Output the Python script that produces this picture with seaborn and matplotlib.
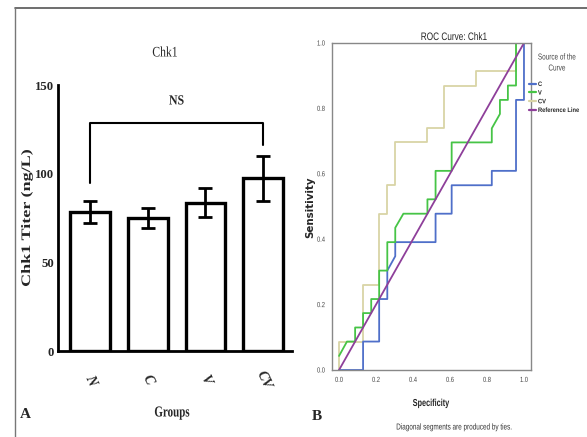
import numpy as np
import pandas as pd
import matplotlib
matplotlib.use("Agg")
import matplotlib.pyplot as plt
from matplotlib.lines import Line2D
from matplotlib.patheffects import AbstractPathEffect
from matplotlib.transforms import Affine2D
import seaborn as sns

# ---------------- data ----------------
groups = ["N", "C", "V", "CV"]
titer_mean = [78.5, 75.0, 83.5, 97.5]
titer_err = [6.3, 5.5, 8.2, 12.7]

roc_c_x = [0, 0.130, 0.130, 0.217, 0.217, 0.261, 0.261, 0.304, 0.304, 0.522, 0.522, 0.609, 0.609, 0.826, 0.826, 0.957, 0.957, 1.0, 1.0]
roc_c_y = [0, 0, 0.087, 0.087, 0.217, 0.217, 0.304, 0.348, 0.391, 0.391, 0.478, 0.478, 0.565, 0.565, 0.609, 0.609, 0.826, 0.826, 1.0]

roc_v_x = [0, 0.043, 0.087, 0.087, 0.130, 0.130, 0.174, 0.174, 0.217, 0.217, 0.261, 0.261, 0.304, 0.304, 0.348, 0.478, 0.478, 0.522, 0.522, 0.609, 0.609, 0.826, 0.826, 0.870, 0.870, 0.913, 0.913, 0.957, 0.957, 1.0]
roc_v_y = [0.043, 0.087, 0.087, 0.130, 0.130, 0.174, 0.174, 0.217, 0.217, 0.304, 0.304, 0.391, 0.391, 0.435, 0.478, 0.478, 0.522, 0.522, 0.609, 0.609, 0.696, 0.696, 0.739, 0.783, 0.826, 0.826, 0.870, 0.870, 1.0, 1.0]

roc_cv_x = [0, 0, 0.130, 0.130, 0.217, 0.217, 0.261, 0.261, 0.304, 0.304, 0.478, 0.478, 0.565, 0.565, 0.739, 0.739, 0.957, 0.957, 1.0]
roc_cv_y = [0, 0.087, 0.087, 0.261, 0.261, 0.478, 0.478, 0.565, 0.565, 0.696, 0.696, 0.739, 0.739, 0.870, 0.870, 0.913, 0.913, 1.0, 1.0]

ref_x = [0, 1]
ref_y = [0, 1]

legend_labels = ["C", "V", "CV", "Reference Line"]


class Stretch(AbstractPathEffect):
    """Horizontally stretch/condense text glyphs (in the text's own direction)."""

    def __init__(self, sx, anchor="center"):
        super().__init__()
        self.sx = sx
        self.anchor = anchor

    def draw_path(self, renderer, gc, tpath, affine, rgbFace=None):
        ext = tpath.get_extents()
        if self.anchor == "left":
            a = ext.x0
        elif self.anchor == "right":
            a = ext.x1
        else:
            a = 0.5 * (ext.x0 + ext.x1)
        t = Affine2D().translate(-a, 0).scale(self.sx, 1).translate(a, 0) + affine
        renderer.draw_path(gc, tpath, t, rgbFace)


# ---------------- style ----------------
sns.set_style("white")
plt.rcParams["font.family"] = ["Liberation Serif", "DejaVu Serif"]

W, H = 587, 437
fig = plt.figure(figsize=(W / 100, H / 100), dpi=100)


def fx(px):
    return px / W


def fy(py):
    return 1 - py / H


# frame lines
fig.add_artist(Line2D([fx(15), 1], [fy(8), fy(8)], color="#555555", lw=1.2))
fig.add_artist(Line2D([fx(15), fx(15)], [fy(8), 0], color="#777777", lw=1.0))

# ---------------- panel A ----------------
axA = fig.add_axes([fx(58), fy(351), fx(292) - fx(58), fy(85) - fy(351)])
dfA = pd.DataFrame({"group": groups, "titer": titer_mean})
sns.barplot(data=dfA, x="group", y="titer", ax=axA, color="white", edgecolor="black",
            linewidth=2.4, width=0.69, errorbar=None)
axA.errorbar(np.arange(len(groups)), titer_mean, yerr=titer_err, fmt="none",
             ecolor="black", elinewidth=2.0, capsize=5, capthick=2.0)
axA.set_xlim(-0.555, 3.5)
axA.set_ylim(0, 150)
axA.set_yticks([0, 50, 100, 150])
axA.set_yticklabels(["0", "50", "100", "150"], fontweight="bold", fontsize=9.2)
axA.set_xticks(range(len(groups)))
axA.set_xticklabels(groups, rotation=-65, fontstyle="italic", fontweight="bold",
                    fontsize=10, ha="center", va="center")
for s in ["top", "right"]:
    axA.spines[s].set_visible(False)
for s in ["left", "bottom"]:
    axA.spines[s].set_linewidth(2.0)
    axA.spines[s].set_color("black")
axA.tick_params(axis="y", direction="out", length=2, width=2, color="black", pad=1)
axA.tick_params(axis="x", direction="out", length=6, width=2, color="black", pad=15)
axA.set_xlabel("")
axA.set_ylabel("Chk1 Titer (ng/L)", fontweight="bold", fontsize=9.3)
axA.yaxis.set_label_coords((33 - 58) / 234, 0.5)
axA.yaxis.label.set_path_effects([Stretch(1.4)])
# bracket
axA.plot([0, 0, 3, 3], [95, 128.5, 128.5, 116], color="black", lw=1.5)
tNS = axA.text(1.5, 141, "NS", ha="center", va="center", fontsize=10, fontweight="bold")
tNS.set_path_effects([Stretch(0.85)])

t = fig.text(fx(165), fy(53), "Chk1", ha="center", va="center", fontsize=10.5)
t.set_path_effects([Stretch(0.8)])
t = fig.text(fx(172), fy(413), "Groups", ha="center", va="center", fontsize=11, fontweight="bold")
t.set_path_effects([Stretch(0.72)])
fig.text(fx(25), fy(414), "A", ha="center", va="center", fontsize=11, fontweight="bold")

# ---------------- panel B ----------------
sans = ["Liberation Sans", "DejaVu Sans"]
axB = fig.add_axes([fx(332), fy(370), fx(531) - fx(332), fy(43) - fy(370)])
col_c = "#4f6fc9"
col_v = "#46c446"
col_cv = "#d9d4a6"
col_ref = "#8e3f9a"
sns.lineplot(x=roc_cv_x, y=roc_cv_y, ax=axB, sort=False, estimator=None, color=col_cv, lw=1.3)
sns.lineplot(x=roc_c_x, y=roc_c_y, ax=axB, sort=False, estimator=None, color=col_c, lw=1.3)
sns.lineplot(x=roc_v_x, y=roc_v_y, ax=axB, sort=False, estimator=None, color=col_v, lw=1.3)
sns.lineplot(x=ref_x, y=ref_y, ax=axB, sort=False, estimator=None, color=col_ref, lw=1.3)
axB.set_xlim(-0.038, 1.038)
axB.set_ylim(0, 1.0)
ticks = [0.0, 0.2, 0.4, 0.6, 0.8, 1.0]
axB.set_xticks(ticks)
axB.set_yticks(ticks)
axB.set_xticklabels([f"{v:.1f}" for v in ticks], family=sans, fontsize=5.3, color="#444444")
axB.set_yticklabels([f"{v:.1f}" for v in ticks], family=sans, fontsize=5.3, color="#444444")
for lab in axB.get_xticklabels():
    lab.set_path_effects([Stretch(0.78)])
for lab in axB.get_yticklabels():
    lab.set_path_effects([Stretch(0.78, "right")])
for s in axB.spines.values():
    s.set_color("#888888")
    s.set_linewidth(1.0)
axB.tick_params(axis="both", direction="out", length=3, width=0.8, color="#888888", pad=2)
axB.set_xlabel("")
axB.set_ylabel("")

t = fig.text(fx(454), fy(37), "ROC Curve: Chk1", ha="center", va="center", family=sans, fontsize=7.8)
t.set_path_effects([Stretch(0.76)])
t = fig.text(fx(310), fy(207), "Sensitivity", ha="center", va="center", rotation=90,
             family=["DejaVu Sans"], fontsize=7.4, fontweight="bold")
t = fig.text(fx(431), fy(403), "Specificity", ha="center", va="center", family=sans,
             fontsize=7.3, fontweight="bold")
t.set_path_effects([Stretch(0.72)])
fig.text(fx(317), fy(417), "B", ha="center", va="center", fontsize=11, fontweight="bold")
t = fig.text(fx(455), fy(427), "Diagonal segments are produced by ties.", ha="center", va="center",
             family=sans, fontsize=6.2, color="#333333")
t.set_path_effects([Stretch(0.74)])
for txt, yy in [("Source of the", 57), ("Curve", 68)]:
    t = fig.text(fx(557), fy(yy), txt, ha="center", va="center", family=sans, fontsize=6.2, color="#444444")
    t.set_path_effects([Stretch(0.74)])

handles = [Line2D([0], [0], color=c, lw=1.6) for c in [col_c, col_v, col_cv, col_ref]]
leg = fig.legend(handles, legend_labels, loc="upper left", bbox_to_anchor=(fx(529), fy(81.5)),
                 frameon=False, handlelength=1.1, handletextpad=0.3, labelspacing=0.5,
                 borderpad=0, borderaxespad=0,
                 prop={"family": sans, "size": 4.6, "weight": "bold"})
for lt in leg.get_texts():
    lt.set_path_effects([Stretch(0.9, "left")])

fig.savefig("out.png", dpi=100)
